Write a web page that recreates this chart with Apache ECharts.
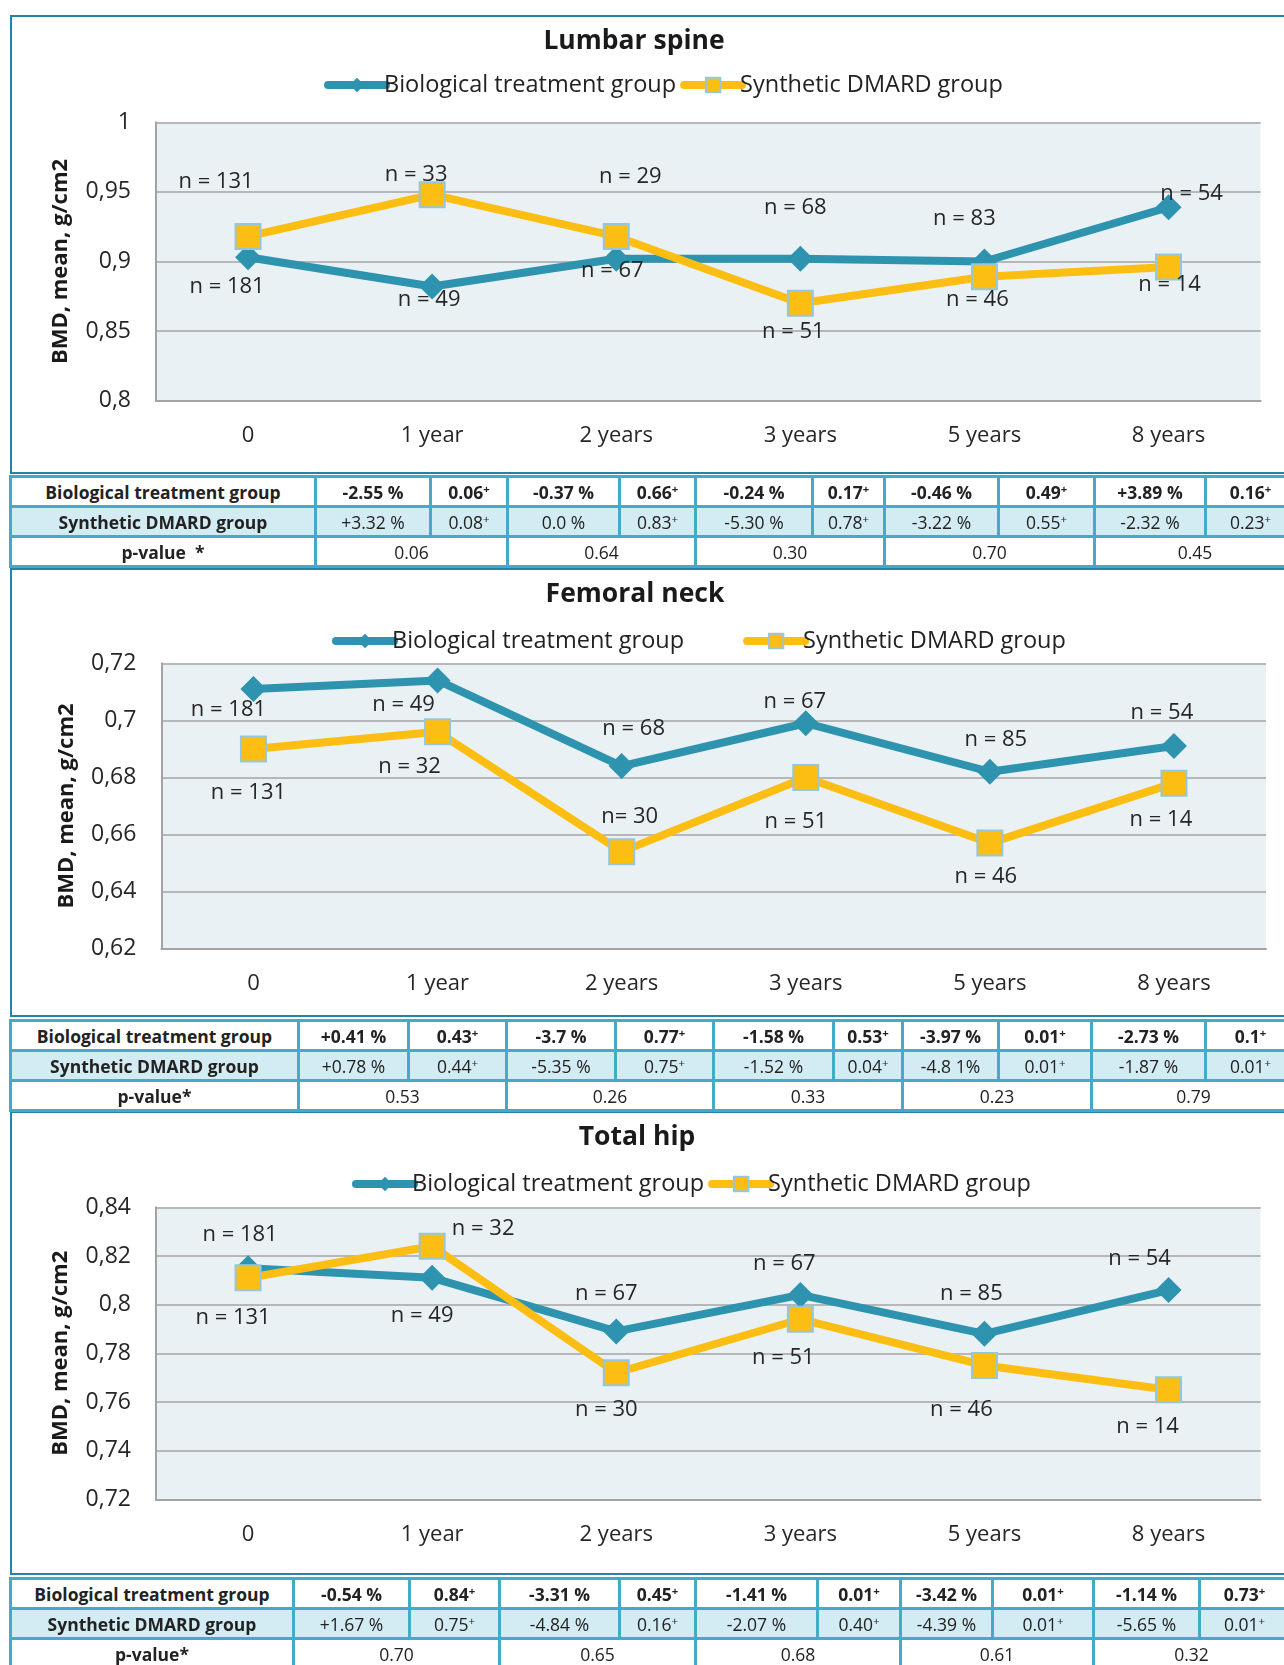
<!DOCTYPE html>
<html>
<head>
<meta charset="utf-8">
<script src="https://cdn.jsdelivr.net/npm/echarts@6/dist/echarts.min.js"></script>
<style>
html,body{margin:0;padding:0;background:#fff;}
#wrap{position:relative;width:1284px;height:1665px;overflow:hidden;background:#fff;}
.frame{position:absolute;border:2px solid #2484a6;border-right:none;box-sizing:border-box;}
#chart{position:absolute;left:0;top:0;width:1284px;height:1665px;}
table.tb{position:absolute;border-collapse:collapse;table-layout:fixed;font-family:'Open Sans',sans-serif;font-size:17.5px;color:#222;}
table.tb td{border:3px solid #45aac7;text-align:center;padding:0;white-space:nowrap;overflow:hidden;line-height:20px;}
table.tb tr{height:30px;}
table.tb tr.r1 td{font-weight:bold;background:#fff;}
table.tb tr.r2 td{background:#d3ebf3;}
table.tb tr.r3 td{background:#fff;}
table.tb td.lab{font-weight:bold;}
table.tb sup{font-size:0.65em;line-height:0;vertical-align:0.55em;}
</style>
</head>
<body>
<div id="wrap">
  <div class="frame" style="left:10px;top:15px;width:1300px;height:459px;"></div>
  <div class="frame" style="left:10px;top:568px;width:1300px;height:449px;"></div>
  <div class="frame" style="left:10px;top:1111px;width:1300px;height:464px;"></div>
  <div id="chart"></div>
  <div id="tables"></div>
</div>
<script>
// ---------- data ----------
const categories = ['0', '1 year', '2 years', '3 years', '5 years', '8 years'];
const seriesNames = ['Biological treatment group', 'Synthetic DMARD group'];

const lumbarBio = [0.903, 0.882, 0.902, 0.902, 0.900, 0.939];
const lumbarSyn = [0.918, 0.948, 0.918, 0.870, 0.889, 0.896];
const lumbarBioN = ['n = 181', 'n = 49', 'n = 67', 'n = 68', 'n = 83', 'n = 54'];
const lumbarSynN = ['n = 131', 'n = 33', 'n = 29', 'n = 51', 'n = 46', 'n = 14'];

const femBio = [0.711, 0.714, 0.684, 0.699, 0.682, 0.691];
const femSyn = [0.690, 0.696, 0.654, 0.680, 0.657, 0.678];
const femBioN = ['n = 181', 'n = 49', 'n = 68', 'n = 67', 'n = 85', 'n = 54'];
const femSynN = ['n = 131', 'n = 32', 'n= 30', 'n = 51', 'n = 46', 'n = 14'];

const hipBio = [0.815, 0.811, 0.789, 0.804, 0.788, 0.806];
const hipSyn = [0.811, 0.824, 0.772, 0.794, 0.775, 0.765];
const hipBioN = ['n = 181', 'n = 49', 'n = 67', 'n = 67', 'n = 85', 'n = 54'];
const hipSynN = ['n = 131', 'n = 32', 'n = 30', 'n = 51', 'n = 46', 'n = 14'];

// table values
const lumbarBioChange = ['-2.55 %', '-0.37 %', '-0.24 %', '-0.46 %', '+3.89 %'];
const lumbarBioP = ['0.06', '0.66', '0.17', '0.49', '0.16'];
const lumbarSynChange = ['+3.32 %', '0.0 %', '-5.30 %', '-3.22 %', '-2.32 %'];
const lumbarSynP = ['0.08', '0.83', '0.78', '0.55', '0.23'];
const lumbarPValue = ['0.06', '0.64', '0.30', '0.70', '0.45'];

const femBioChange = ['+0.41 %', '-3.7 %', '-1.58 %', '-3.97 %', '-2.73 %'];
const femBioP = ['0.43', '0.77', '0.53', '0.01', '0.1'];
const femSynChange = ['+0.78 %', '-5.35 %', '-1.52 %', '-4.8 1%', '-1.87 %'];
const femSynP = ['0.44', '0.75', '0.04', '0.01', '0.01'];
const femPValue = ['0.53', '0.26', '0.33', '0.23', '0.79'];

const hipBioChange = ['-0.54 %', '-3.31 %', '-1.41 %', '-3.42 %', '-1.14 %'];
const hipBioP = ['0.84', '0.45', '0.01', '0.01', '0.73'];
const hipSynChange = ['+1.67 %', '-4.84 %', '-2.07 %', '-4.39 %', '-5.65 %'];
const hipSynP = ['0.75', '0.16', '0.40', '0.01', '0.01'];
const hipPValue = ['0.70', '0.65', '0.68', '0.61', '0.32'];

// ---------- layout / style ----------
const BIO = '#2d93ae', SYN = '#fdbe14';
const FONT = "'Open Sans', 'Noto Sans', sans-serif";
const panels = [
  { title: 'Lumbar spine', titleX: 634, titleTop: 26, legendLeft: 324, legendTop: 72, legendGap: 4,
    grid: { left: 156, top: 122.3, width: 1104.6, height: 278.4 }, min: 0.8, max: 1.0, interval: 0.05,
    bio: lumbarBio, syn: lumbarSyn, bioN: lumbarBioN, synN: lumbarSynN,
    bioOff: [[-21, 29], [-3, 13], [-4, 12], [-5, -51], [-20, -43], [23, -13]],
    synOff: [[-32, -55], [-16, -20], [14, -60], [-7, 28], [-7, 23], [1, 18]] },
  { title: 'Femoral neck', titleX: 635, titleTop: 579, legendLeft: 332, legendTop: 628, legendGap: 59,
    grid: { left: 161.4, top: 663.3, width: 1104.6, height: 285.4 }, min: 0.62, max: 0.72, interval: 0.02,
    bio: femBio, syn: femSyn, bioN: femBioN, synN: femSynN,
    bioOff: [[-25, 21], [-34, 24], [12, -37], [-11, -21], [6, -32], [-12, -33]],
    synOff: [[-5, 44], [-28, 35], [8, -35], [-10, 44], [-4, 34], [-13, 37]] },
  { title: 'Total hip', titleX: 637, titleTop: 1122, legendLeft: 352, legendTop: 1171, legendGap: 4,
    grid: { left: 156, top: 1207.3, width: 1104.6, height: 292 }, min: 0.72, max: 0.84, interval: 0.02,
    bio: hipBio, syn: hipSyn, bioN: hipBioN, synN: hipSynN,
    bioOff: [[-8, -33], [-10, 38], [-10, -38], [-16, -31], [-13, -40], [-29, -31]],
    synOff: [[-15, 40], [51, -17], [-10, 37], [-17, 39], [-23, 44], [-21, 37]] }
];

const option = { animation: false, title: [], legend: [], grid: [], xAxis: [], yAxis: [], series: [] };
const labelStyle = { show: true, position: 'inside', fontFamily: FONT, fontSize: 22, color: '#262626' };

panels.forEach((p, i) => {
  option.title.push({ text: p.title, left: p.titleX, top: p.titleTop, textAlign: 'center', padding: 0,
    textStyle: { fontFamily: FONT, fontSize: 26.5, fontWeight: 'bold', color: '#1a1a1a', lineHeight: 30 } });
  option.legend.push({ data: seriesNames, left: p.legendLeft, top: p.legendTop, itemGap: p.legendGap,
    itemWidth: 58, itemHeight: 18, padding: 0, selectedMode: false,
    lineStyle: { width: 8, cap: 'round' },
    textStyle: { fontFamily: FONT, fontSize: 23.5, color: '#222', lineHeight: 26, padding: [0, 0, 0, -7] } });
  option.grid.push(Object.assign({ show: true, backgroundColor: '#eaf1f5', borderWidth: 0 }, p.grid));
  option.xAxis.push({ type: 'category', gridIndex: i, data: categories, boundaryGap: true,
    axisTick: { show: false }, axisLine: { lineStyle: { color: '#a3a3a3', width: 2 } },
    axisLabel: { fontFamily: FONT, fontSize: 22, color: '#262626', margin: 22, lineHeight: 26 } });
  option.yAxis.push({ type: 'value', gridIndex: i, min: p.min, max: p.max, interval: p.interval,
    name: 'BMD, mean, g/cm2', nameLocation: 'middle', nameRotate: 90, nameGap: 84,
    nameTextStyle: { fontFamily: FONT, fontSize: 22, fontWeight: 'bold', color: '#1a1a1a' },
    axisLine: { show: true, lineStyle: { color: '#a3a3a3', width: 2 } }, axisTick: { show: false },
    splitLine: { lineStyle: { color: '#a3a3a3', width: 1.5 } },
    axisLabel: { fontFamily: FONT, fontSize: 23, color: '#262626', margin: 25,
      formatter: v => String(parseFloat(v.toFixed(2))).replace('.', ',') } });
  option.series.push({ name: seriesNames[0], type: 'line', xAxisIndex: i, yAxisIndex: i,
    data: p.bio.map((v, k) => ({ value: v, label: { offset: p.bioOff[k] } })),
    symbol: 'diamond', symbolSize: 26, lineStyle: { color: BIO, width: 8 }, itemStyle: { color: BIO },
    label: Object.assign({ formatter: q => p.bioN[q.dataIndex] }, labelStyle), z: 2 });
  option.series.push({ name: seriesNames[1], type: 'line', xAxisIndex: i, yAxisIndex: i,
    data: p.syn.map((v, k) => ({ value: v, label: { offset: p.synOff[k] } })),
    symbol: 'rect', symbolSize: 25, lineStyle: { color: SYN, width: 8 },
    itemStyle: { color: SYN, borderColor: '#93c7dd', borderWidth: 2 },
    label: Object.assign({ formatter: q => p.synN[q.dataIndex] }, labelStyle), z: 3 });
});

const chart = echarts.init(document.getElementById('chart'), null, { width: 1284, height: 1665 });
chart.setOption(option);

// ---------- tables ----------
const tables = [
  { top: 475, cols: [305, 115, 77, 112, 76, 117, 72, 114, 96, 111, 90], pLabel: 'p-value&nbsp; *',
    bc: lumbarBioChange, bp: lumbarBioP, sc: lumbarSynChange, sp: lumbarSynP, pv: lumbarPValue },
  { top: 1019, cols: [288, 110, 98, 109, 98, 120, 69, 96, 93, 114, 90], pLabel: 'p-value*',
    bc: femBioChange, bp: femBioP, sc: femSynChange, sp: femSynP, pv: femPValue },
  { top: 1577, cols: [283, 116, 90, 120, 76, 122, 83, 92, 101, 106, 90], pLabel: 'p-value*',
    bc: hipBioChange, bp: hipBioP, sc: hipSynChange, sp: hipSynP, pv: hipPValue }
];
const host = document.getElementById('tables');
tables.forEach(t => {
  const w = t.cols.reduce((a, b) => a + b, 0);
  let h = '<table class="tb" style="left:9px;top:' + t.top + 'px;width:' + w + 'px"><colgroup>' +
    t.cols.map(c => '<col style="width:' + c + 'px">').join('') + '</colgroup>';
  h += '<tr class="r1"><td class="lab">Biological treatment group</td>';
  t.bc.forEach((c, k) => { h += '<td>' + c + '</td><td>' + t.bp[k] + '<sup>+</sup></td>'; });
  h += '</tr><tr class="r2"><td class="lab">Synthetic DMARD group</td>';
  t.sc.forEach((c, k) => { h += '<td>' + c + '</td><td>' + t.sp[k] + '<sup>+</sup></td>'; });
  h += '</tr><tr class="r3"><td class="lab">' + t.pLabel + '</td>';
  t.pv.forEach(v => { h += '<td colspan="2">' + v + '</td>'; });
  h += '</tr></table>';
  host.insertAdjacentHTML('beforeend', h);
});
</script>
</body>
</html>
